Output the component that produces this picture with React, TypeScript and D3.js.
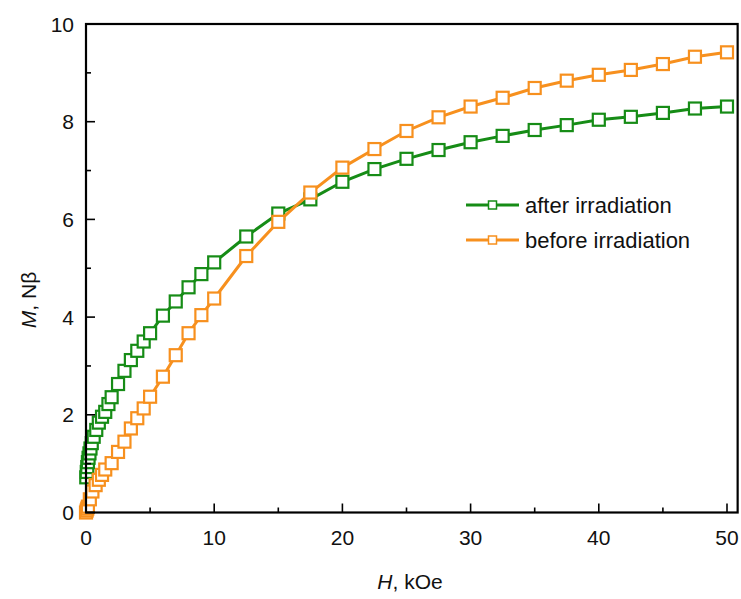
import React from 'react';
import * as d3 from 'd3';

const afterH = [0.02, 0.06, 0.1, 0.15, 0.2, 0.27, 0.35, 0.45, 0.6, 0.8, 1.0, 1.25, 1.5, 1.75, 2, 2.5, 3, 3.5, 4, 4.5, 5, 6, 7, 8, 9, 10, 12.5, 15, 17.5, 20, 22.5, 25, 27.5, 30, 32.5, 35, 37.5, 40, 42.5, 45, 47.5, 50];
const afterM = [0.72, 0.83, 0.93, 1.03, 1.12, 1.21, 1.31, 1.42, 1.55, 1.69, 1.84, 1.96, 2.06, 2.22, 2.36, 2.63, 2.9, 3.12, 3.31, 3.5, 3.67, 4.03, 4.32, 4.61, 4.88, 5.12, 5.65, 6.12, 6.41, 6.77, 7.03, 7.24, 7.42, 7.58, 7.71, 7.83, 7.93, 8.04, 8.1, 8.18, 8.27, 8.31];

const beforeH = [0, 0.05, 0.1, 0.15, 0.3, 0.5, 0.75, 1, 1.25, 1.5, 2, 2.5, 3, 3.5, 4, 4.5, 5, 6, 7, 8, 9, 10, 12.5, 15, 17.5, 20, 22.5, 25, 27.5, 30, 32.5, 35, 37.5, 40, 42.5, 45, 47.5, 50];
const beforeM = [0, 0.04, 0.08, 0.12, 0.27, 0.43, 0.56, 0.67, 0.77, 0.88, 1.01, 1.24, 1.45, 1.72, 1.93, 2.13, 2.37, 2.78, 3.22, 3.67, 4.04, 4.38, 5.25, 5.95, 6.55, 7.06, 7.44, 7.81, 8.09, 8.31, 8.49, 8.69, 8.84, 8.96, 9.06, 9.18, 9.33, 9.42];

const xMajorTicks = [0, 10, 20, 30, 40, 50];
const xMinorTicks = [5, 15, 25, 35, 45];
const yMajorTicks = [0, 2, 4, 6, 8, 10];
const yMinorTicks = [1, 3, 5, 7, 9];
const seriesNames = ['after irradiation', 'before irradiation'];

const GREEN = '#168c16';
const ORANGE = '#f7901e';
const FONT = '"Liberation Sans", Arial, sans-serif';

export default function App() {
  const W = 741, Hh = 599;
  const x = d3.scaleLinear().domain([0, 50]).range([86, 727]);
  const y = d3.scaleLinear().domain([0, 10]).range([512.5, 24]);
  const xRight = x(50.83);
  const line = d3.line<[number, number]>().x(d => x(d[0])).y(d => y(d[1]));
  const after: [number, number][] = afterH.map((h, i) => [h, afterM[i]]);
  const before: [number, number][] = beforeH.map((h, i) => [h, beforeM[i]]);
  const series = [
    { name: seriesNames[0], data: after, color: GREEN },
    { name: seriesNames[1], data: before, color: ORANGE },
  ];
  const ms = 12;
  const y0 = y(0), y1 = y(10), x0 = x(0);
  return (
    <svg width={W} height={Hh} style={{ position: 'absolute', left: 0, top: 0, background: '#fff' }} fontFamily={FONT}>
      <rect width={W} height={Hh} fill="#fff" />
      {series.map(s => (
        <g key={s.name}>
          <path d={line(s.data) || ''} fill="none" stroke={s.color} strokeWidth={3} />
          {s.data.map((d, i) => (
            <rect key={i} x={x(d[0]) - ms / 2} y={y(d[1]) - ms / 2} width={ms} height={ms} fill="#fff" stroke={s.color} strokeWidth={2.2} />
          ))}
        </g>
      ))}
      {/* frame */}
      <rect x={x0} y={y1} width={xRight - x0} height={y0 - y1} fill="none" stroke="#000" strokeWidth={2.2} />
      {xMajorTicks.map(t => (
        <g key={'xM' + t}>
          <line x1={x(t)} x2={x(t)} y1={y0} y2={y0 - 9} stroke="#000" strokeWidth={1.6} />
          <text x={x(t)} y={y0 + 32} textAnchor="middle" fontSize={21} fill="#111">{t}</text>
        </g>
      ))}
      {xMinorTicks.map(t => (
        <line key={'xm' + t} x1={x(t)} x2={x(t)} y1={y0} y2={y0 - 5} stroke="#000" strokeWidth={1.6} />
      ))}
      {yMajorTicks.map(t => (
        <g key={'yM' + t}>
          <line x1={x0} x2={x0 + 9} y1={y(t)} y2={y(t)} stroke="#000" strokeWidth={1.6} />
          <text x={x0 - 12} y={y(t) + 7.5} textAnchor="end" fontSize={21} fill="#111">{t}</text>
        </g>
      ))}
      {yMinorTicks.map(t => (
        <line key={'ym' + t} x1={x0} x2={x0 + 5} y1={y(t)} y2={y(t)} stroke="#000" strokeWidth={1.6} />
      ))}
      {/* axis titles */}
      <text x={410} y={589} textAnchor="middle" fontSize={21} fill="#111">
        <tspan fontStyle="italic">H</tspan>, kOe
      </text>
      <text transform="translate(36,300) rotate(-90)" textAnchor="middle" fontSize={21} fill="#111">
        <tspan fontStyle="italic">M</tspan>, Nβ
      </text>
      {/* legend */}
      {series.map((s, i) => {
        const ly = 205 + i * 35;
        return (
          <g key={'lg' + s.name}>
            <line x1={466} x2={519} y1={ly} y2={ly} stroke={s.color} strokeWidth={3} />
            <rect x={492.5 - 4} y={ly - 4} width={8} height={8} fill="#fff" stroke={s.color} strokeWidth={1.5} />
            <text x={525} y={ly + 7.5} fontSize={22} fill="#111">{s.name}</text>
          </g>
        );
      })}
    </svg>
  );
}
